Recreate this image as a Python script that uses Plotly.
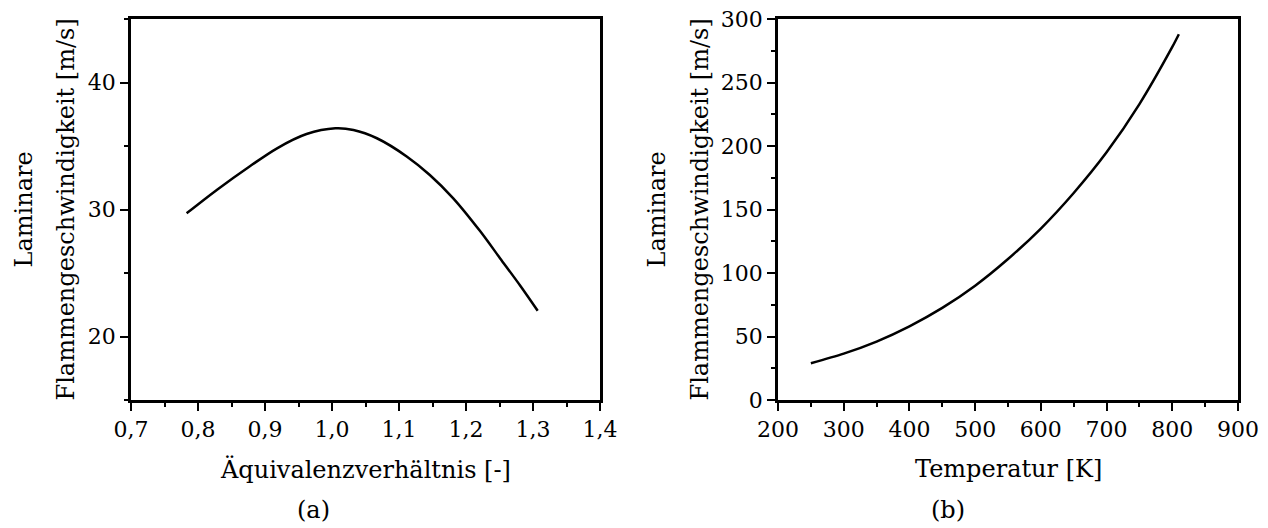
import plotly.graph_objects as go

# Panel (a): laminar flame speed vs equivalence ratio
phi = [0.783, 0.828, 0.878, 0.918, 0.962, 1.005, 1.032, 1.067, 1.112, 1.146, 1.181, 1.221, 1.251, 1.281, 1.307]
sl_phi = [29.70, 31.54, 33.43, 34.82, 35.94, 36.39, 36.26, 35.61, 34.16, 32.72, 30.88, 28.30, 26.15, 24.00, 22.03]

# Panel (b): laminar flame speed vs temperature
temp = [250, 300, 350, 400, 450, 500, 550, 600, 650, 700, 750, 800, 810]
sl_temp = [29, 36.5, 46, 58, 72.5, 90, 111, 135, 163, 195, 233, 278, 288]

xlabels = ["Äquivalenzverhältnis [-]", "Temperatur [K]"]
ylabel_lines = ["Laminare", "Flammengeschwindigkeit [m/s]"]
captions = ["(a)", "(b)"]

W, H = 1268, 528
FONT = '"DejaVu Serif", serif'
FS = 24
TFS = 22

def px(x):
    return x / W

def py(y):
    return 1 - y / H

fig = go.Figure()
fig.add_trace(go.Scatter(x=phi, y=sl_phi, mode="lines", line=dict(color="black", width=2.5, shape="spline", smoothing=0.8),
                         xaxis="x", yaxis="y", showlegend=False))
fig.add_trace(go.Scatter(x=temp, y=sl_temp, mode="lines", line=dict(color="black", width=2.5, shape="spline", smoothing=0.8),
                         xaxis="x2", yaxis="y2", showlegend=False))

axis_common = dict(showline=True, linecolor="black", linewidth=2.5, mirror=True, ticks="outside",
                   ticklen=8, tickwidth=2, tickcolor="black", showgrid=False, zeroline=False,
                   tickfont=dict(family=FONT, size=TFS, color="black"),
                   minor=dict(ticks="outside", ticklen=4, tickwidth=2, tickcolor="black", showgrid=False))

ydom = [py(400), py(19)]

fig.update_layout(
    width=W, height=H,
    margin=dict(l=0, r=0, t=0, b=0),
    paper_bgcolor="white", plot_bgcolor="white",
    separators=",.",
    font=dict(family=FONT, size=FS, color="black"),
    xaxis=dict(domain=[px(131), px(600)], range=[0.7, 1.4], dtick=0.1, tick0=0.7, tickformat=".1f",
               anchor="y", automargin=False, **axis_common),
    yaxis=dict(domain=ydom, range=[15, 45], dtick=10, tick0=20, anchor="x", automargin=False, **axis_common),
    xaxis2=dict(domain=[px(778), px(1238)], range=[200, 900], dtick=100, tick0=200,
                anchor="y2", automargin=False, **axis_common),
    yaxis2=dict(domain=ydom, range=[0, 300], dtick=50, tick0=0, anchor="x2", automargin=False, **axis_common),
)
fig.layout.xaxis.minor.dtick = 0.05
fig.layout.yaxis.minor.dtick = 5
fig.layout.xaxis2.minor.dtick = 50
fig.layout.yaxis2.minor.dtick = 25

ann = []
# x-axis titles
ann.append(dict(text=xlabels[0], x=px(365.5), y=py(469), xref="paper", yref="paper",
                xanchor="center", yanchor="middle", showarrow=False, font=dict(family=FONT, size=FS)))
ann.append(dict(text=xlabels[1], x=px(1008), y=py(469), xref="paper", yref="paper",
                xanchor="center", yanchor="middle", showarrow=False, font=dict(family=FONT, size=FS)))
# y-axis titles (two lines, rotated)
for xa, xb in [(24, 66), (657, 700)]:
    ann.append(dict(text=ylabel_lines[0], x=px(xa), y=py(209.5), xref="paper", yref="paper", textangle=-90,
                    xanchor="center", yanchor="middle", showarrow=False, font=dict(family=FONT, size=FS)))
    ann.append(dict(text=ylabel_lines[1], x=px(xb), y=py(209.5), xref="paper", yref="paper", textangle=-90,
                    xanchor="center", yanchor="middle", showarrow=False, font=dict(family=FONT, size=FS)))
# captions
ann.append(dict(text=captions[0], x=px(313), y=py(510), xref="paper", yref="paper",
                xanchor="center", yanchor="middle", showarrow=False, font=dict(family=FONT, size=FS)))
ann.append(dict(text=captions[1], x=px(948), y=py(510), xref="paper", yref="paper",
                xanchor="center", yanchor="middle", showarrow=False, font=dict(family=FONT, size=FS)))
fig.update_layout(annotations=ann)

fig.write_html("out.html")
